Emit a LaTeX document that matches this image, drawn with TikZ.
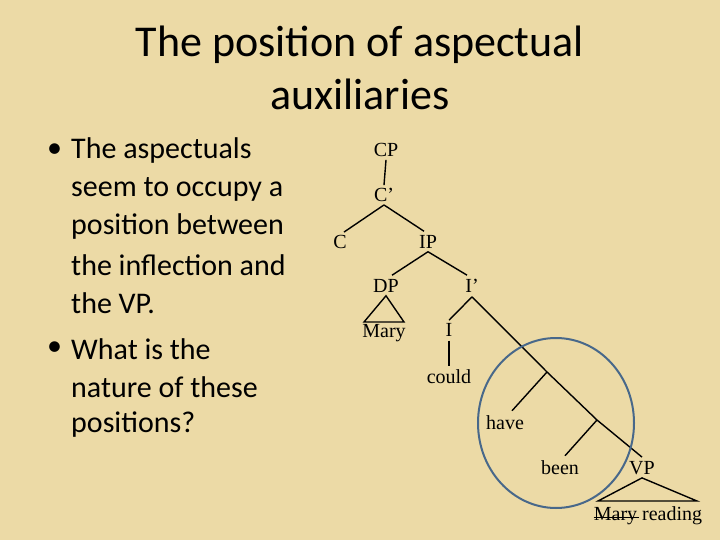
\documentclass[tikz,border=0pt]{standalone}
\usepackage{fontspec}
\setmainfont{Carlito}
\newfontfamily\treefont{Liberation Serif}
\begin{document}
\begin{tikzpicture}[x=1pt,y=-1pt,
  tn/.style={font=\treefont\fontsize{20}{22}\selectfont,inner sep=0pt,text=black},
  bl/.style={font=\fontsize{30}{34}\selectfont,anchor=west,inner sep=0pt},
  br/.style={line width=1.4pt}]
\useasboundingbox[fill={rgb,255:red,236;green,218;blue,166}] (0,0) rectangle (720,540);
\node[font=\fontsize{44}{53}\selectfont,align=center] (title) at (360,68) {The position of aspectual\\auxiliaries};
\node[bl] (b1t) at (47,151) {\textbullet};
\node[bl] (l1) at (71,151) {The aspectuals};
\node[bl] (l2) at (71,189) {seem to occupy a};
\node[bl] (l3) at (71,227) {position between};
\node[bl] (l4) at (71,265) {the inflection and};
\node[bl] (l5) at (71,303) {the VP.};
\node[bl] (b2t) at (47,349) {\textbullet};
\node[bl] (l6) at (71,349) {What is the};
\node[bl] (l7) at (71,387) {nature of these};
\node[bl] (l8) at (71,425) {positions?};
\node[tn] (cp) at (386,150) {CP};
\node[tn] (cb) at (384,195) {C’};
\node[tn] (c) at (340,242) {C};
\node[tn] (ip) at (428,242) {IP};
\node[tn] (dp) at (386,286) {DP};
\node[tn] (ib) at (472,286) {I’};
\node[tn] (mary) at (384,333) {Mary};
\node[tn] (i) at (449,330) {I};
\node[tn] (could) at (449,377) {could};
\node[tn] (have) at (505,423) {have};
\node[tn] (been) at (560,468) {been};
\node[tn] (vp) at (642,468) {VP};
\node[tn] (mr) at (648,516) {Mary reading};
\coordinate (b1) at (547,372);
\coordinate (b2) at (597,420);
\draw[br] ([yshift=-3pt]cp.south) -- ([yshift=3pt]cb.north);
\draw[br] ([yshift=-3pt]cb.south) -- ([xshift=4pt,yshift=3pt]c.north);
\draw[br] ([yshift=-3pt]cb.south) -- ([xshift=-4pt,yshift=4pt]ip.north);
\draw[br] ([yshift=-3pt]ip.south) -- ([xshift=6pt,yshift=4pt]dp.north);
\draw[br] ([yshift=-3pt]ip.south) -- ([xshift=-5pt,yshift=4pt]ib.north);
\draw[br] ([yshift=-4pt]ib.south) -- ([yshift=3pt]i.north);
\draw[br] ([yshift=-4pt]ib.south) -- (b1) -- (b2) -- ([yshift=4pt]vp.north);
\draw[br] (b1) -- ([xshift=7pt,yshift=5pt]have.north);
\draw[br] (b2) -- ([xshift=5pt,yshift=5pt]been.north);
\draw[br] ([yshift=-4pt]i.south) -- ([yshift=4pt]could.north);
\draw[br] ([yshift=-3pt]dp.south) -- (364,322) -- (404,322) -- cycle;
\draw[br] ([yshift=-3pt]vp.south) -- (598,501) -- (697,501) -- cycle;
\draw[line width=1pt] ([yshift=-1pt]mr.west) -- ++(45,0);
\draw[line width=2pt,color={rgb,255:red,72;green,104;blue,138}] (556,423) ellipse [x radius=78, y radius=85];
\end{tikzpicture}
\end{document}
